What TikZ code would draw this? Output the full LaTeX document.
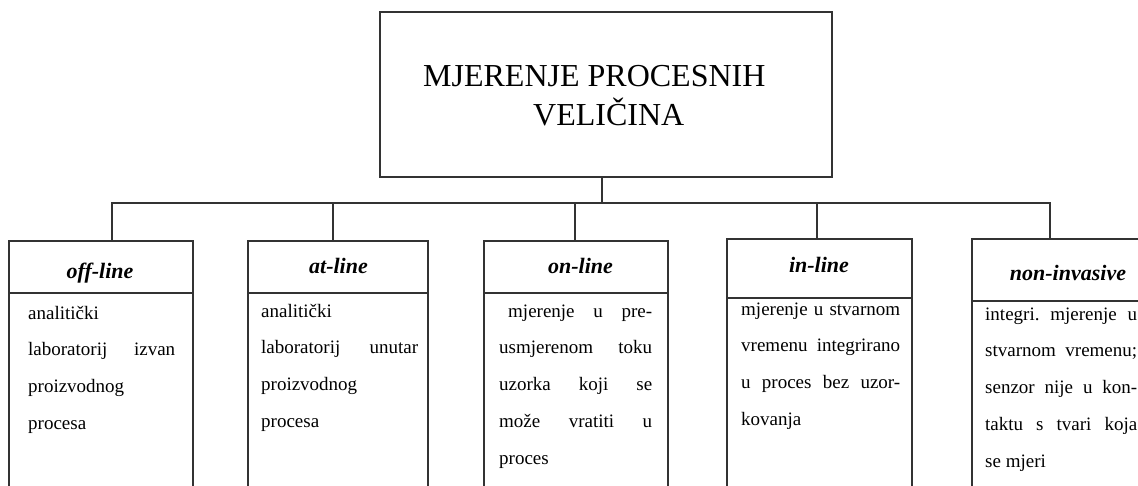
\documentclass[tikz,border=0pt]{standalone}
\usepackage{fontspec}
\setmainfont{Liberation Serif}
\frenchspacing
\begin{document}
\begin{tikzpicture}[x=1pt,y=-1pt,
  frame/.style={draw=black!80, line width=1.4pt, rectangle, inner sep=0pt},
  conn/.style={draw=black!80, line width=1.4pt, line cap=rect},
  head/.style={font=\fontsize{22}{26}\selectfont\bfseries\itshape, anchor=base, inner sep=0pt},
  body/.style={font=\fontsize{19}{36.8}\selectfont, anchor=base west, inner sep=0pt, align=left},
  titletext/.style={font=\fontsize{32}{39}\selectfont, anchor=base west, inner sep=0pt, align=left},
]
\useasboundingbox (0,0) rectangle (1138,485);
\clip (0,0) rectangle (1138,485);

% top box
\node[frame, minimum width=452pt, minimum height=165pt] (top) at (606,94.5) {};
% (multi-line nodes: base anchor is at the last line's baseline)
\node[titletext] (title) at (423,125) {MJERENJE PROCESNIH\\\hspace*{110pt}VELIČINA};

% header boxes
\node[frame, minimum width=184pt, minimum height=52pt] (h1) at (101,267) {};
\node[frame, minimum width=180pt, minimum height=52pt] (h2) at (338,267) {};
\node[frame, minimum width=184pt, minimum height=52pt] (h3) at (576,267) {};
\node[frame, minimum width=185pt, minimum height=59pt] (h4) at (819.5,268.5) {};
\node[frame, minimum width=186pt, minimum height=62pt] (h5) at (1065,270) {};

% body boxes (continue below the picture edge)
\node[frame, minimum width=184pt, minimum height=207pt] (b1) at (101,396.5) {};
\node[frame, minimum width=180pt, minimum height=207pt] (b2) at (338,396.5) {};
\node[frame, minimum width=184pt, minimum height=207pt] (b3) at (576,396.5) {};
\node[frame, minimum width=185pt, minimum height=202pt] (b4) at (819.5,399) {};
\node[frame, minimum width=186pt, minimum height=199pt] (b5) at (1065,400.5) {};

% header texts
\node[head] (t1h) at (100,278) {off-line};
\node[head] (t2h) at (338.5,273) {at-line};
\node[head] (t3h) at (580.5,273) {on-line};
\node[head] (t4h) at (819,272) {in-line};
\node[head] (t5h) at (1068,280) {non-invasive};

% body texts
\node[body] (t1) at (28,429.4) {analitički\\\makebox[147pt][s]{laboratorij izvan}\\proizvodnog\\procesa};
\node[body] (t2) at (261,427.4) {analitički\\\makebox[157pt][s]{laboratorij unutar}\\proizvodnog\\procesa};
\node[body] (t3) at (499,464.2) {\hspace*{9pt}\makebox[144pt][s]{mjerenje u pre-}\\\makebox[153pt][s]{usmjerenom toku}\\\makebox[153pt][s]{uzorka koji se}\\\makebox[153pt][s]{može vratiti u}\\proces};
\node[body] (t4) at (741,425.4) {\makebox[159pt][s]{mjerenje u stvarnom}\\\makebox[159pt][s]{vremenu integrirano}\\\makebox[159pt][s]{u proces bez uzor-}\\kovanja};
\node[body] (t5) at (985,467.2) {\makebox[152pt][s]{integri. mjerenje u}\\\makebox[152pt][s]{stvarnom vremenu;}\\\makebox[152pt][s]{senzor nije u kon-}\\\makebox[152pt][s]{taktu s tvari koja}\\se mjeri};

% connectors
\coordinate (bus) at (602,203);
\coordinate (d1) at (112,203);
\coordinate (d2) at (333,203);
\coordinate (d3) at (575,203);
\coordinate (d4) at (817,203);
\coordinate (d5) at (1050,203);
\draw[conn] (top.south -| bus) -- (bus);
\draw[conn] (d1) -- (d5);
\draw[conn] (d1) -- (d1 |- h1.north);
\draw[conn] (d2) -- (d2 |- h2.north);
\draw[conn] (d3) -- (d3 |- h3.north);
\draw[conn] (d4) -- (d4 |- h4.north);
\draw[conn] (d5) -- (d5 |- h5.north);
\end{tikzpicture}
\end{document}
